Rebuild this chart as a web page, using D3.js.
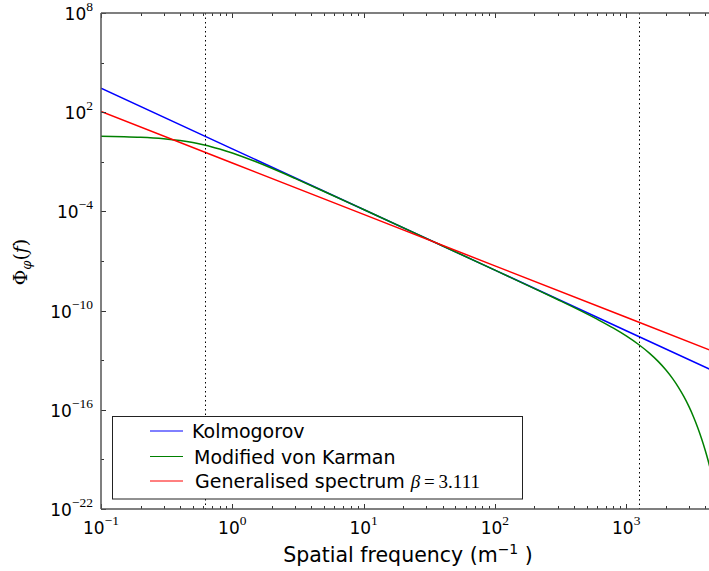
<!DOCTYPE html>
<html>
<head>
<meta charset="utf-8">
<script src="https://cdn.jsdelivr.net/npm/d3@7"></script>
<style>
  html, body { margin: 0; padding: 0; background: #fff; }
  svg { display: block; }
  text { font-family: "DejaVu Sans", sans-serif; fill: #000; }
  .sup { font-family: "Liberation Serif", "DejaVu Serif", serif; }
</style>
</head>
<body>
<svg id="chart" width="709" height="571"></svg>
<script>
// Spatial frequency samples (m^-1) and phase power spectra
const kolmogorovFreq = [0.1, 1, 10, 100, 1000, 5000];
const kolmogorovPsd  = [2.82e3, 0.607, 1.31e-4, 2.82e-8, 6.07e-12, 1.66e-14];

const generalisedFreq = [0.1, 1, 10, 100, 1000, 5000];
const generalisedPsd  = [110, 0.0849, 6.58e-5, 5.09e-8, 3.94e-11, 2.64e-13];

const vonKarmanFreq = [0.1, 0.15, 0.2, 0.3, 0.4, 0.5, 0.6, 0.7, 0.8, 1, 1.2, 1.5, 2, 3, 5, 10, 30, 100,
  200, 300, 600, 800, 1000, 1250, 1500, 1750, 2000, 2250, 2500, 2750, 3000, 3250, 3500, 3750, 4000,
  4250, 4500, 4750, 5000];
const vonKarmanPsd = [3.54, 3.33, 3.08, 2.50, 1.93, 1.45, 1.07, 0.796, 0.593, 0.340, 0.204, 0.1035,
  0.0406, 0.01, 1.61e-3, 1.30e-4, 2.33e-6, 2.80e-8, 2.15e-9, 4.70e-10, 3.04e-11, 8.65e-12, 2.94e-12,
  8.63e-13, 2.69e-13, 8.49e-14, 2.64e-14, 7.93e-15, 2.28e-15, 6.21e-16, 1.60e-16, 3.83e-17, 8.61e-18,
  1.79e-18, 3.48e-19, 6.27e-20, 1.04e-20, 1.60e-21, 2.27e-22];

// Outer and inner scale markers
const scaleMarkers = [0.62, 1250];

// Axis ticks
const xMajorExp = [-1, 0, 1, 2, 3];
const yMajorExp = [8, 2, -4, -10, -16, -22];
const yMinorExp = [5, -1, -7, -13, -19];

const legendLabels = ["Kolmogorov", "Modified von Karman", "Generalised spectrum"];
const betaText = "3.111";

const series = [
  { name: legendLabels[0], color: "#0000ff", f: kolmogorovFreq, v: kolmogorovPsd },
  { name: legendLabels[1], color: "#008000", f: vonKarmanFreq, v: vonKarmanPsd },
  { name: legendLabels[2], color: "#ff0000", f: generalisedFreq, v: generalisedPsd }
];

const svg = d3.select("#chart");
const pLeft = 101, pTop = 13, pBottom = 509, pRight = 718;

const x = d3.scaleLog().domain([0.1, 5000]).range([pLeft, pRight]);
const y = d3.scaleLog().domain([1e-22, 1e8]).range([pBottom, pTop]);

const plot = svg.append("g");
plot.append("clipPath").attr("id", "clip")
  .append("rect").attr("x", pLeft).attr("y", pTop).attr("width", pRight - pLeft).attr("height", pBottom - pTop);

const lineGen = d3.line().x(d => x(d[0])).y(d => y(d[1]));

series.forEach((s, i) => {
  const pts = s.f.map((f, k) => [f, s.v[k]]);
  plot.append("path")
    .attr("clip-path", "url(#clip)")
    .attr("d", lineGen.curve(i === 1 ? d3.curveMonotoneX : d3.curveLinear)(pts))
    .attr("fill", "none")
    .attr("stroke", s.color)
    .attr("stroke-width", 1.5);
});

// Vertical dotted markers
scaleMarkers.forEach(f => {
  const px = Math.round(x(f)) + 0.5;
  plot.append("line")
    .attr("x1", px).attr("x2", px)
    .attr("y1", pTop).attr("y2", pBottom)
    .attr("stroke", "#000").attr("stroke-width", 1)
    .attr("stroke-dasharray", "1.5,3");
});

// Ticks (pointing inward)
const xMinorVals = [];
xMajorExp.forEach(e => { for (let m = 2; m <= 9; m++) xMinorVals.push(m * Math.pow(10, e)); });

const ticks = svg.append("g").attr("stroke", "#333").attr("stroke-width", 1);
xMajorExp.forEach(e => {
  const px = Math.round(x(Math.pow(10, e))) + 0.5;
  ticks.append("line").attr("x1", px).attr("x2", px).attr("y1", pBottom).attr("y2", pBottom - 5);
  ticks.append("line").attr("x1", px).attr("x2", px).attr("y1", pTop).attr("y2", pTop + 5);
});
xMinorVals.forEach(v => {
  const px = Math.round(x(v)) + 0.5;
  ticks.append("line").attr("x1", px).attr("x2", px).attr("y1", pBottom).attr("y2", pBottom - 3);
  ticks.append("line").attr("x1", px).attr("x2", px).attr("y1", pTop).attr("y2", pTop + 3);
});
yMajorExp.forEach(e => {
  const py = Math.round(y(Math.pow(10, e))) + 0.5;
  ticks.append("line").attr("x1", pLeft).attr("x2", pLeft + 5).attr("y1", py).attr("y2", py);
});
yMinorExp.forEach(e => {
  const py = Math.round(y(Math.pow(10, e))) + 0.5;
  ticks.append("line").attr("x1", pLeft).attr("x2", pLeft + 3).attr("y1", py).attr("y2", py);
});

// Spines
const spine = svg.append("g").attr("stroke", "#555").attr("stroke-width", 1.5).attr("fill", "none");
spine.append("line").attr("x1", pLeft).attr("x2", pLeft).attr("y1", pTop).attr("y2", pBottom);
spine.append("line").attr("x1", pLeft).attr("x2", 709).attr("y1", pBottom).attr("y2", pBottom);
spine.append("line").attr("x1", pLeft).attr("x2", 709).attr("y1", pTop).attr("y2", pTop);

function expLabel(e) { return e < 0 ? "\u2212" + Math.abs(e) : String(e); }

// Y tick labels
yMajorExp.forEach(e => {
  const t = svg.append("text")
    .attr("x", 93).attr("y", y(Math.pow(10, e)) + 7)
    .attr("text-anchor", "end").style("font-size", "17px");
  t.append("tspan").text("10");
  t.append("tspan").attr("class", "sup").attr("dy", -9).style("font-size", "13.5px").text(expLabel(e));
});

// X tick labels
xMajorExp.forEach(e => {
  const t = svg.append("text")
    .attr("x", x(Math.pow(10, e))).attr("y", 534)
    .attr("text-anchor", "middle").style("font-size", "17px");
  t.append("tspan").text("10");
  t.append("tspan").attr("class", "sup").attr("dy", -9).style("font-size", "13.5px").text(expLabel(e));
});

// Axis titles
const xt = svg.append("text").attr("x", 408).attr("y", 562).attr("text-anchor", "middle").style("font-size", "20.5px");
xt.append("tspan").text("Spatial frequency (m");
xt.append("tspan").attr("dy", -8).style("font-size", "14px").text("\u22121");
xt.append("tspan").attr("dy", 8).text(" )");

const yt = svg.append("text")
  .attr("transform", "translate(27,262) rotate(-90)")
  .attr("text-anchor", "middle")
  .style("font-family", "'DejaVu Serif', serif").style("font-size", "19px");
yt.append("tspan").text("\u03A6");
yt.append("tspan").attr("dy", 4).style("font-size", "13px").style("font-style", "italic").text("\u03C6");
yt.append("tspan").attr("dy", -4).text("(");
yt.append("tspan").style("font-style", "italic").text("f");
yt.append("tspan").text(")");

// Legend
const lg = svg.append("g");
lg.append("rect").attr("x", 112.5).attr("y", 416.5).attr("width", 410).attr("height", 82.5)
  .attr("fill", "#fff").attr("stroke", "#222").attr("stroke-width", 1);
const rowY = [431, 456.5, 481];
const textX = [192, 194, 195];
series.forEach((s, i) => {
  lg.append("line").attr("x1", 150).attr("x2", 183).attr("y1", rowY[i]).attr("y2", rowY[i])
    .attr("stroke", s.color).attr("stroke-width", 1);
  const t = lg.append("text").attr("x", textX[i]).attr("y", rowY[i] + 7).style("font-size", "19px");
  t.append("tspan").text(s.name + " ");
  if (i === 2) {
    t.append("tspan").style("font-family", "'Liberation Serif', serif").style("font-style", "italic").text("\u03B2");
    t.append("tspan").style("font-family", "'Liberation Serif', serif").text("\u2009=\u2009" + betaText);
  }
});
</script>
</body>
</html>
